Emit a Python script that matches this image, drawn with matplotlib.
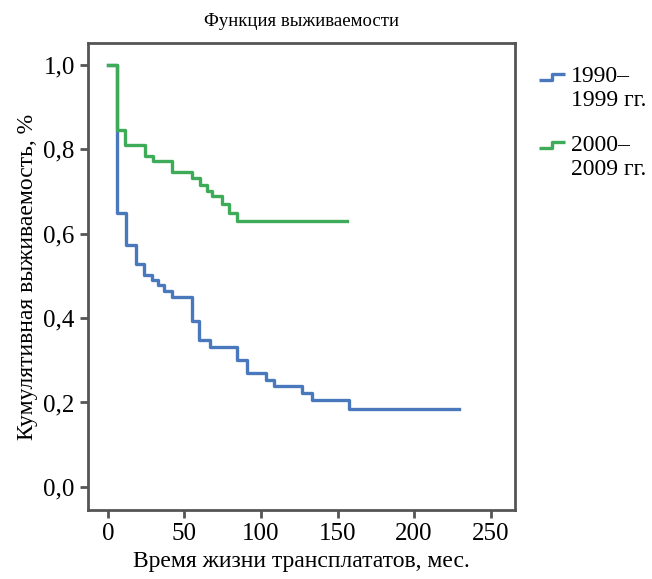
import matplotlib
matplotlib.use('Agg')
import matplotlib.pyplot as plt
from matplotlib.lines import Line2D
from matplotlib.path import Path

# Kaplan-Meier curves
t_90s = [0, 6.1, 11.6, 18.1, 23.6, 28.6, 33, 36.6, 42.1, 54.7, 59.8, 66.8,
         84.2, 90.8, 103.5, 108.2, 126.8, 133.3, 157.3, 229.3]
s_90s = [1.0, 0.648, 0.573, 0.528, 0.502, 0.49, 0.479, 0.463, 0.451, 0.392,
         0.348, 0.332, 0.301, 0.27, 0.254, 0.238, 0.222, 0.206, 0.184, 0.184]

t_00s = [0, 6.0, 11.1, 24.2, 29.7, 41.7, 54.8, 60.2, 64.6, 67.9, 74.4,
         78.8, 84.2, 156]
s_00s = [1.0, 0.846, 0.81, 0.783, 0.771, 0.747, 0.731, 0.716, 0.700,
         0.688, 0.670, 0.648, 0.629, 0.629]

labels = ['1990–\n1999 гг.', '2000–\n2009 гг.']
colors = ['#4a78bd', '#3eab58']

x_ticks = [0, 50, 100, 150, 200, 250]
y_ticks = [0.0, 0.2, 0.4, 0.6, 0.8, 1.0]
y_tick_labels = ['0,0', '0,2', '0,4', '0,6', '0,8', '1,0']

plt.rcParams['font.family'] = ['Liberation Serif', 'DejaVu Serif']

fig = plt.figure(figsize=(6.52, 5.79), dpi=100)
ax = fig.add_axes([0.135, 0.119, 0.655, 0.807])

ax.step(t_90s, s_90s, where='post', color=colors[0], lw=2.4)
ax.step(t_00s, s_00s, where='post', color=colors[1], lw=2.4)

ax.set_xlim(-13, 266)
ax.set_ylim(-0.055, 1.052)
ax.set_xticks(x_ticks)
ax.set_yticks(y_ticks)
ax.set_yticklabels(y_tick_labels)
ax.tick_params(labelsize=18, length=6, width=2, color='#555555')

for sp in ax.spines.values():
    sp.set_color('#555555')
    sp.set_linewidth(2)

ax.set_xlabel('Время жизни трансплататов, мес.', fontsize=17, labelpad=4)
ax.set_ylabel('Кумулятивная выживаемость, %', fontsize=17, labelpad=4)
ax.set_title('Функция выживаемости', fontsize=13.5, pad=12)

# step-shaped legend icon, lifted to the first text line
# (the lone point at the bottom only sets the marker's extent)
step = Path([(0, -1.2), (-1, 0.72), (0, 0.72), (0, 1.15), (1, 1.15)],
            [Path.MOVETO, Path.MOVETO, Path.LINETO, Path.LINETO, Path.LINETO])
handles = [Line2D([], [], marker=step, linestyle='None', markersize=22,
                  markerfacecolor='none', markeredgecolor=c, markeredgewidth=2.4)
           for c in colors]
ax.legend(handles, labels, loc='upper left', bbox_to_anchor=(1.058, 0.95),
          frameon=False, fontsize=17, handlelength=1.0, handletextpad=0.3,
          labelspacing=1.0, borderpad=0, borderaxespad=0)

fig.savefig('out.png', dpi=100)
